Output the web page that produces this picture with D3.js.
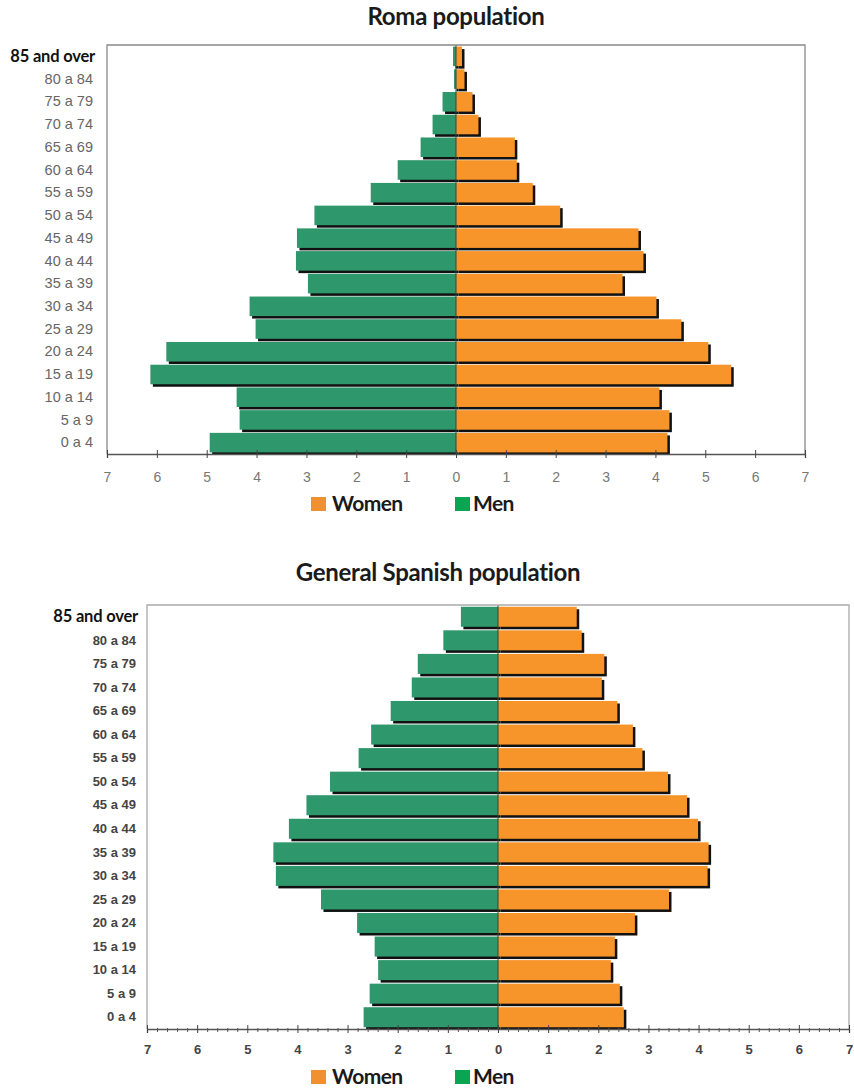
<!DOCTYPE html>
<html>
<head>
<meta charset="utf-8">
<script src="https://cdn.jsdelivr.net/npm/d3@7"></script>
<style>
  html, body { margin: 0; padding: 0; background: #fff; }
  svg { display: block; }
</style>
</head>
<body>
<svg id="chart" width="854" height="1088"></svg>
<script>
// Age groups, oldest first (top of the pyramid)
const ageGroups = ["85 and over", "80 a 84", "75 a 79", "70 a 74", "65 a 69", "60 a 64",
  "55 a 59", "50 a 54", "45 a 49", "40 a 44", "35 a 39", "30 a 34", "25 a 29",
  "20 a 24", "15 a 19", "10 a 14", "5 a 9", "0 a 4"];

// Roma population, % of total
const romaMen   = [0.06, 0.04, 0.27, 0.47, 0.71, 1.17, 1.71, 2.84, 3.19, 3.21, 2.97, 4.14, 4.02, 5.81, 6.13, 4.40, 4.34, 4.94];
const romaWomen = [0.12, 0.17, 0.33, 0.45, 1.18, 1.22, 1.54, 2.09, 3.66, 3.76, 3.34, 4.02, 4.52, 5.06, 5.52, 4.08, 4.28, 4.24];

// General Spanish population, % of total
const spainMen   = [0.74, 1.09, 1.60, 1.72, 2.14, 2.53, 2.78, 3.35, 3.82, 4.17, 4.48, 4.43, 3.53, 2.81, 2.46, 2.39, 2.56, 2.68];
const spainWomen = [1.57, 1.67, 2.12, 2.07, 2.38, 2.69, 2.88, 3.39, 3.77, 3.99, 4.20, 4.18, 3.41, 2.73, 2.33, 2.25, 2.43, 2.51];

// Axis ticks (absolute % on both sides)
const majorTicks = [-7, -6, -5, -4, -3, -2, -1, 0, 1, 2, 3, 4, 5, 6, 7];

const legendItems = [
  { label: "Women", color: "#f09030" },
  { label: "Men", color: "#0aa553" }
];

const MEN_COLOR = "#2f976c";
const WOMEN_COLOR = "#f7952b";

const svg = d3.select("#chart");

function drawPyramid(opt) {
  const g = svg.append("g");
  const x = d3.scaleLinear().domain([-7, 7]).range([opt.left, opt.right]);
  const y = d3.scaleBand().domain(ageGroups).range([opt.top, opt.bottom]).paddingInner(opt.padding).paddingOuter(opt.padding / 2);

  // title
  g.append("text")
    .attr("x", opt.titleX).attr("y", opt.titleY)
    .attr("text-anchor", "middle")
    .attr("font-family", "Lato, 'Open Sans', sans-serif")
    .attr("font-weight", 700)
    .attr("font-size", opt.titleSize)
    .attr("letter-spacing", -0.3)
    .attr("fill", "#1a1a1a")
    .text(opt.title);

  const rows = ageGroups.map((a, i) => ({ age: a, men: opt.men[i], women: opt.women[i] }));
  const bh = y.bandwidth();
  const sh = opt.shadow;

  // drop shadows first, then bars on top
  const shadows = g.append("g").attr("fill", "#111");
  shadows.selectAll("rect.m").data(rows).join("rect")
    .attr("x", d => x(-d.men) + sh).attr("y", d => y(d.age) + sh)
    .attr("width", d => x(0) - x(-d.men)).attr("height", bh);
  shadows.selectAll("rect.w").data(rows).join("rect")
    .attr("x", x(0) + sh).attr("y", d => y(d.age) + sh)
    .attr("width", d => x(d.women) - x(0)).attr("height", bh);

  const bars = g.append("g");
  bars.selectAll("rect.men").data(rows).join("rect").attr("class", "men")
    .attr("x", d => x(-d.men)).attr("y", d => y(d.age))
    .attr("width", d => x(0) - x(-d.men)).attr("height", bh)
    .attr("fill", MEN_COLOR);
  bars.selectAll("rect.women").data(rows).join("rect").attr("class", "women")
    .attr("x", x(0)).attr("y", d => y(d.age))
    .attr("width", d => x(d.women) - x(0)).attr("height", bh)
    .attr("fill", WOMEN_COLOR);

  // centre divider
  g.append("line")
    .attr("x1", x(0)).attr("x2", x(0)).attr("y1", opt.top).attr("y2", opt.bottom)
    .attr("stroke", "#2a4a3a").attr("stroke-width", 1);

  // plot frame (top, right, left)
  g.append("path")
    .attr("d", `M${opt.left},${opt.bottom}V${opt.top}H${opt.right}V${opt.bottom}`)
    .attr("fill", "none").attr("stroke", opt.frameColor).attr("stroke-width", 1.3);

  // x axis
  const ax = g.append("g").attr("transform", `translate(0,${opt.bottom})`)
    .call(d3.axisBottom(x).tickValues(majorTicks).tickFormat(d => Math.abs(d)).tickSize(4).tickPadding(opt.tickPad));
  ax.select(".domain").attr("stroke", "#555").attr("stroke-width", 1.3);
  ax.selectAll(".tick line").attr("y1", -4).attr("y2", 4).attr("stroke", "#444");
  ax.selectAll(".tick text")
    .attr("font-family", "'Liberation Sans', Arial, sans-serif")
    .attr("font-size", opt.tickSize)
    .attr("font-weight", opt.tickWeight)
    .attr("fill", opt.tickColor);

  if (opt.minor) {
    const minorTicks = d3.range(-70, 71, 2).map(v => v / 10).filter(v => !majorTicks.includes(v));
    const mx = g.append("g").attr("transform", `translate(0,${opt.bottom})`)
      .call(d3.axisBottom(x).tickValues(minorTicks).tickFormat("").tickSize(3));
    mx.select(".domain").remove();
    mx.selectAll(".tick line").attr("y1", -1).attr("y2", 3).attr("stroke", "#555");
  }

  // y axis labels
  const ay = g.append("g").attr("transform", `translate(${opt.left},0)`)
    .call(d3.axisLeft(y).tickSize(0).tickPadding(opt.labelPad));
  ay.select(".domain").remove();
  ay.selectAll(".tick text")
    .attr("font-family", "'Liberation Sans', Arial, sans-serif")
    .attr("font-size", opt.labelSize)
    .attr("font-weight", opt.labelWeight)
    .attr("fill", opt.labelColor);
  ay.selectAll(".tick").filter(d => d === ageGroups[0]).select("text")
    .attr("font-family", "Lato, 'Open Sans', sans-serif")
    .attr("font-weight", 700)
    .attr("font-size", opt.firstLabelSize)
    .attr("letter-spacing", -0.2)
    .attr("fill", "#111")
    .attr("dx", opt.firstLabelDx);

  // legend
  const lg = g.append("g").attr("transform", `translate(0,${opt.legendY})`);
  const positions = [311, 455];
  legendItems.forEach((it, i) => {
    lg.append("rect").attr("x", positions[i]).attr("y", -7).attr("width", 15).attr("height", 14).attr("fill", it.color);
    lg.append("text").attr("x", positions[i] + (i === 0 ? 21 : 18)).attr("y", 7)
      .attr("font-family", "Lato, 'Open Sans', sans-serif")
      .attr("font-weight", 700).attr("font-size", 21)
      .attr("letter-spacing", -0.6)
      .attr("fill", "#1a1a1a").text(it.label);
  });
}

drawPyramid({
  title: "Roma population", titleX: 456, titleY: 25, titleSize: 24,
  men: romaMen, women: romaWomen,
  left: 107, right: 805, top: 45, bottom: 454,
  padding: 0.14, shadow: 2.5,
  frameColor: "#888",
  tickPad: 14, tickSize: 14, tickWeight: 400, tickColor: "#777",
  labelPad: 14, labelSize: 14.5, labelWeight: 400, labelColor: "#666",
  firstLabelSize: 16.5, firstLabelDx: 2,
  minor: false,
  legendY: 504
});

drawPyramid({
  title: "General Spanish population", titleX: 438, titleY: 581, titleSize: 24,
  men: spainMen, women: spainWomen,
  left: 147, right: 849, top: 605, bottom: 1029,
  padding: 0.15, shadow: 2.5,
  frameColor: "#aaa",
  tickPad: 12, tickSize: 13, tickWeight: 700, tickColor: "#444",
  labelPad: 11, labelSize: 13, labelWeight: 700, labelColor: "#444",
  firstLabelSize: 16.5, firstLabelDx: 2,
  minor: true,
  legendY: 1077
});
</script>
</body>
</html>
